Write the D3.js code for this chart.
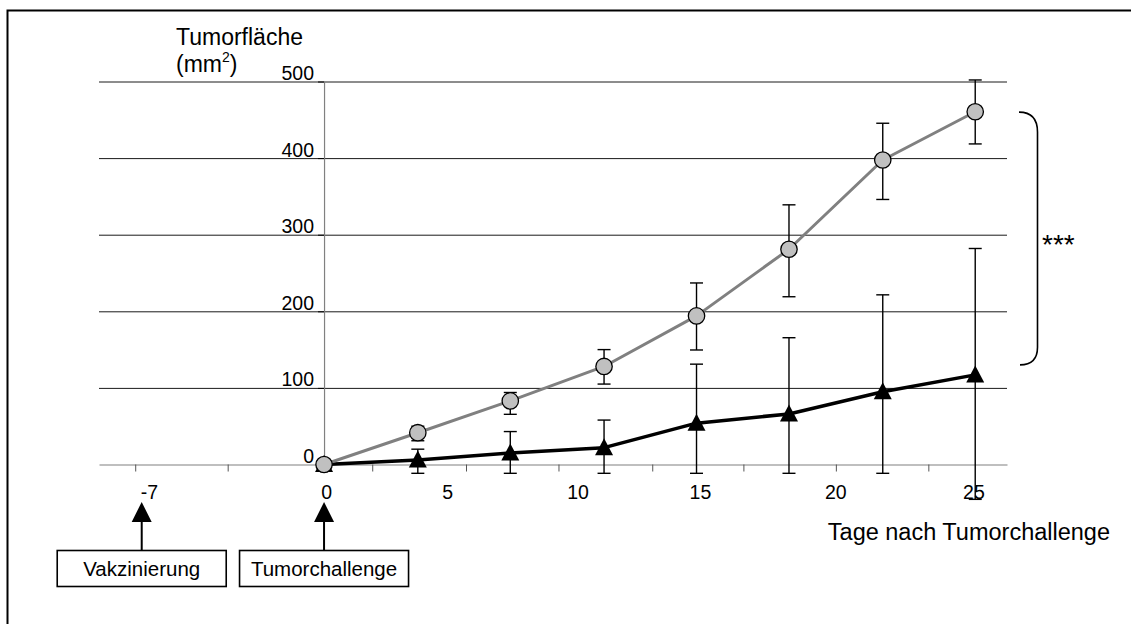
<!DOCTYPE html>
<html>
<head>
<meta charset="utf-8">
<script src="https://cdn.jsdelivr.net/npm/d3@7"></script>
<style>
  html, body { margin: 0; padding: 0; background: #fff; }
  svg { display: block; font-family: "Liberation Sans", Arial, sans-serif; }
</style>
</head>
<body>
<svg id="chart" width="1131" height="624"></svg>
<script>
// Measurement days after tumour challenge
const sampleDays = [0, 3.6, 7.15, 10.75, 14.3, 17.85, 21.45, 25];

// Control group (grey circles): mean tumour area and error-bar ends, mm²
const kontrolleMean = [0, 41.5, 83, 128, 194, 281, 397.5, 460.5];
const kontrolleLow  = [0, 31, 65.5, 105, 149.5, 219, 346, 418.5];
const kontrolleHigh = [0, 50, 94, 150, 237, 339, 445.5, 502];

// Vaccinated group (black triangles)
const vakziniertMean = [0, 6, 15, 22, 54, 66, 95, 117];
const vakziniertLow  = [0, -11.5, -11.5, -11.5, -11.5, -11.5, -11.5, -45.5];
const vakziniertHigh = [0, 20, 43, 58, 131, 165.5, 221.5, 282];

// Axes
const yTicks = [0, 100, 200, 300, 400, 500];
const xTickDays = [-7.25, -3.7, 1.85, 5.45, 9.0, 12.6, 16.1, 19.65, 23.2];
const dayLabels = ["-7", "0", "5", "10", "15", "20", "25"];
const dayLabelAt = [-6.7, 0.1, 4.75, 9.75, 14.45, 19.65, 24.95];

// Timeline events below the axis
const eventDays = [-7, 0];
const eventLabels = ["Vakzinierung", "Tumorchallenge"];

const svg = d3.select("#chart");

const x = d3.scaleLinear().domain([-8.64, 26.22]).range([99, 1007]);
const y = d3.scaleLinear().domain([0, 500]).range([464.5, 81.5]);

// Frame around the figure
svg.append("path")
  .attr("d", "M7.5,700 L7.5,10.5 L1200,10.5")
  .attr("fill", "none").attr("stroke", "#000").attr("stroke-width", 2);

// Horizontal gridlines
const grid = svg.append("g")
  .attr("transform", `translate(${x.range()[0]},0)`)
  .call(d3.axisRight(y).tickValues(yTicks.filter(d => d > 0))
    .tickSize(x.range()[1] - x.range()[0]).tickFormat(""));
grid.select(".domain").remove();
grid.selectAll(".tick line").attr("stroke", "#1a1a1a").attr("stroke-width", 1);

// X axis (ticks only, labels placed separately)
const xAxis = svg.append("g")
  .attr("transform", `translate(0,${y(0)})`)
  .call(d3.axisBottom(x).tickValues(xTickDays).tickSize(7).tickSizeOuter(0).tickFormat(""));
xAxis.select(".domain").attr("stroke", "#808080").attr("stroke-width", 1.2);
xAxis.selectAll(".tick line").attr("stroke", "#555");

svg.append("g").selectAll("text")
  .data(dayLabels)
  .join("text")
  .attr("x", (d, i) => x(dayLabelAt[i]))
  .attr("y", 499)
  .attr("text-anchor", "middle")
  .attr("font-size", 19.5)
  .attr("fill", "#000")
  .text(d => d);

// Y axis at day 0
const yAxis = svg.append("g")
  .attr("transform", `translate(${x(0)},0)`)
  .call(d3.axisLeft(y).tickValues(yTicks).tickSize(6).tickSizeOuter(0).tickPadding(4));
yAxis.select(".domain").attr("stroke", "#808080").attr("stroke-width", 1.2);
yAxis.selectAll(".tick line").attr("stroke", "#000");
yAxis.selectAll(".tick text")
  .attr("font-family", "Liberation Sans, Arial, sans-serif")
  .attr("font-size", 19.5)
  .attr("fill", "#000")
  .attr("dy", -2);

// Axis titles
const yTitle = svg.append("text")
  .attr("x", 176).attr("y", 45)
  .attr("font-size", 23).attr("fill", "#000")
  .text("Tumorfläche");
const unit = svg.append("text")
  .attr("x", 176).attr("y", 72)
  .attr("font-size", 23).attr("fill", "#000");
unit.append("tspan").text("(mm");
unit.append("tspan").attr("font-size", 14).attr("dy", -10).text("2");
unit.append("tspan").attr("dy", 10).text(")");

svg.append("text")
  .attr("x", 1110).attr("y", 540)
  .attr("text-anchor", "end")
  .attr("font-size", 23.5).attr("fill", "#000")
  .text("Tage nach Tumorchallenge");

// Series drawing helper
function drawSeries(mean, low, high, lineColor, lineWidth, drawMarker) {
  const pts = sampleDays.map((d, i) => ({ day: d, m: mean[i], lo: low[i], hi: high[i] }));
  const g = svg.append("g");

  const bars = g.append("g").attr("stroke", "#000").attr("stroke-width", 1.4).attr("fill", "none");
  pts.filter(p => p.hi !== p.lo).forEach(p => {
    const cx = x(p.day);
    bars.append("line").attr("x1", cx).attr("x2", cx).attr("y1", y(p.lo)).attr("y2", y(p.hi));
    bars.append("line").attr("x1", cx - 6.5).attr("x2", cx + 6.5).attr("y1", y(p.lo)).attr("y2", y(p.lo));
    bars.append("line").attr("x1", cx - 6.5).attr("x2", cx + 6.5).attr("y1", y(p.hi)).attr("y2", y(p.hi));
  });

  g.append("path")
    .datum(pts)
    .attr("fill", "none")
    .attr("stroke", lineColor)
    .attr("stroke-width", lineWidth)
    .attr("stroke-linejoin", "round")
    .attr("d", d3.line().x(p => x(p.day)).y(p => y(p.m)));

  drawMarker(g.append("g").selectAll("path").data(pts).join("path"));
}

// Vaccinated: black line with triangles
drawSeries(vakziniertMean, vakziniertLow, vakziniertHigh, "#000", 3.5, sel =>
  sel.attr("d", "M0,-9.5 L9,7.5 L-9,7.5 Z")
     .attr("transform", p => `translate(${x(p.day)},${y(p.m)})`)
     .attr("fill", "#000"));

// Control: grey line with circles
drawSeries(kontrolleMean, kontrolleLow, kontrolleHigh, "#808080", 3, sel =>
  sel.attr("d", d3.symbol().type(d3.symbolCircle).size(Math.PI * 8.2 * 8.2))
     .attr("transform", p => `translate(${x(p.day)},${y(p.m)})`)
     .attr("fill", "#c0c0c0")
     .attr("stroke", "#000")
     .attr("stroke-width", 1.3));

// Significance bracket
const bx = 1037.5;
svg.append("path")
  .attr("d", `M1019,${y(460)} Q${bx},${y(460)} ${bx},${y(434)} L${bx},${y(153)} Q${bx},${y(130)} 1020,${y(130)}`)
  .attr("fill", "none").attr("stroke", "#000").attr("stroke-width", 1.6);
svg.append("text")
  .attr("x", 1042).attr("y", 254)
  .attr("font-size", 28).attr("fill", "#000")
  .text("***");

// Timeline events: arrow and boxed label
const ev = svg.append("g").selectAll("g")
  .data(eventDays)
  .join("g")
  .attr("transform", d => `translate(${x(d)},0)`);
ev.append("line")
  .attr("x1", 0).attr("x2", 0).attr("y1", 521).attr("y2", 550)
  .attr("stroke", "#000").attr("stroke-width", 2);
ev.append("path")
  .attr("d", "M0,502 L10,522 L-10,522 Z")
  .attr("fill", "#000");
ev.append("rect")
  .attr("x", -84.5).attr("y", 550.5).attr("width", 169).attr("height", 36)
  .attr("fill", "#fff").attr("stroke", "#000").attr("stroke-width", 1.6);
ev.append("text")
  .attr("x", 0).attr("y", 576)
  .attr("text-anchor", "middle")
  .attr("font-size", 20.5).attr("fill", "#000")
  .text((d, i) => eventLabels[i]);
</script>
</body>
</html>
